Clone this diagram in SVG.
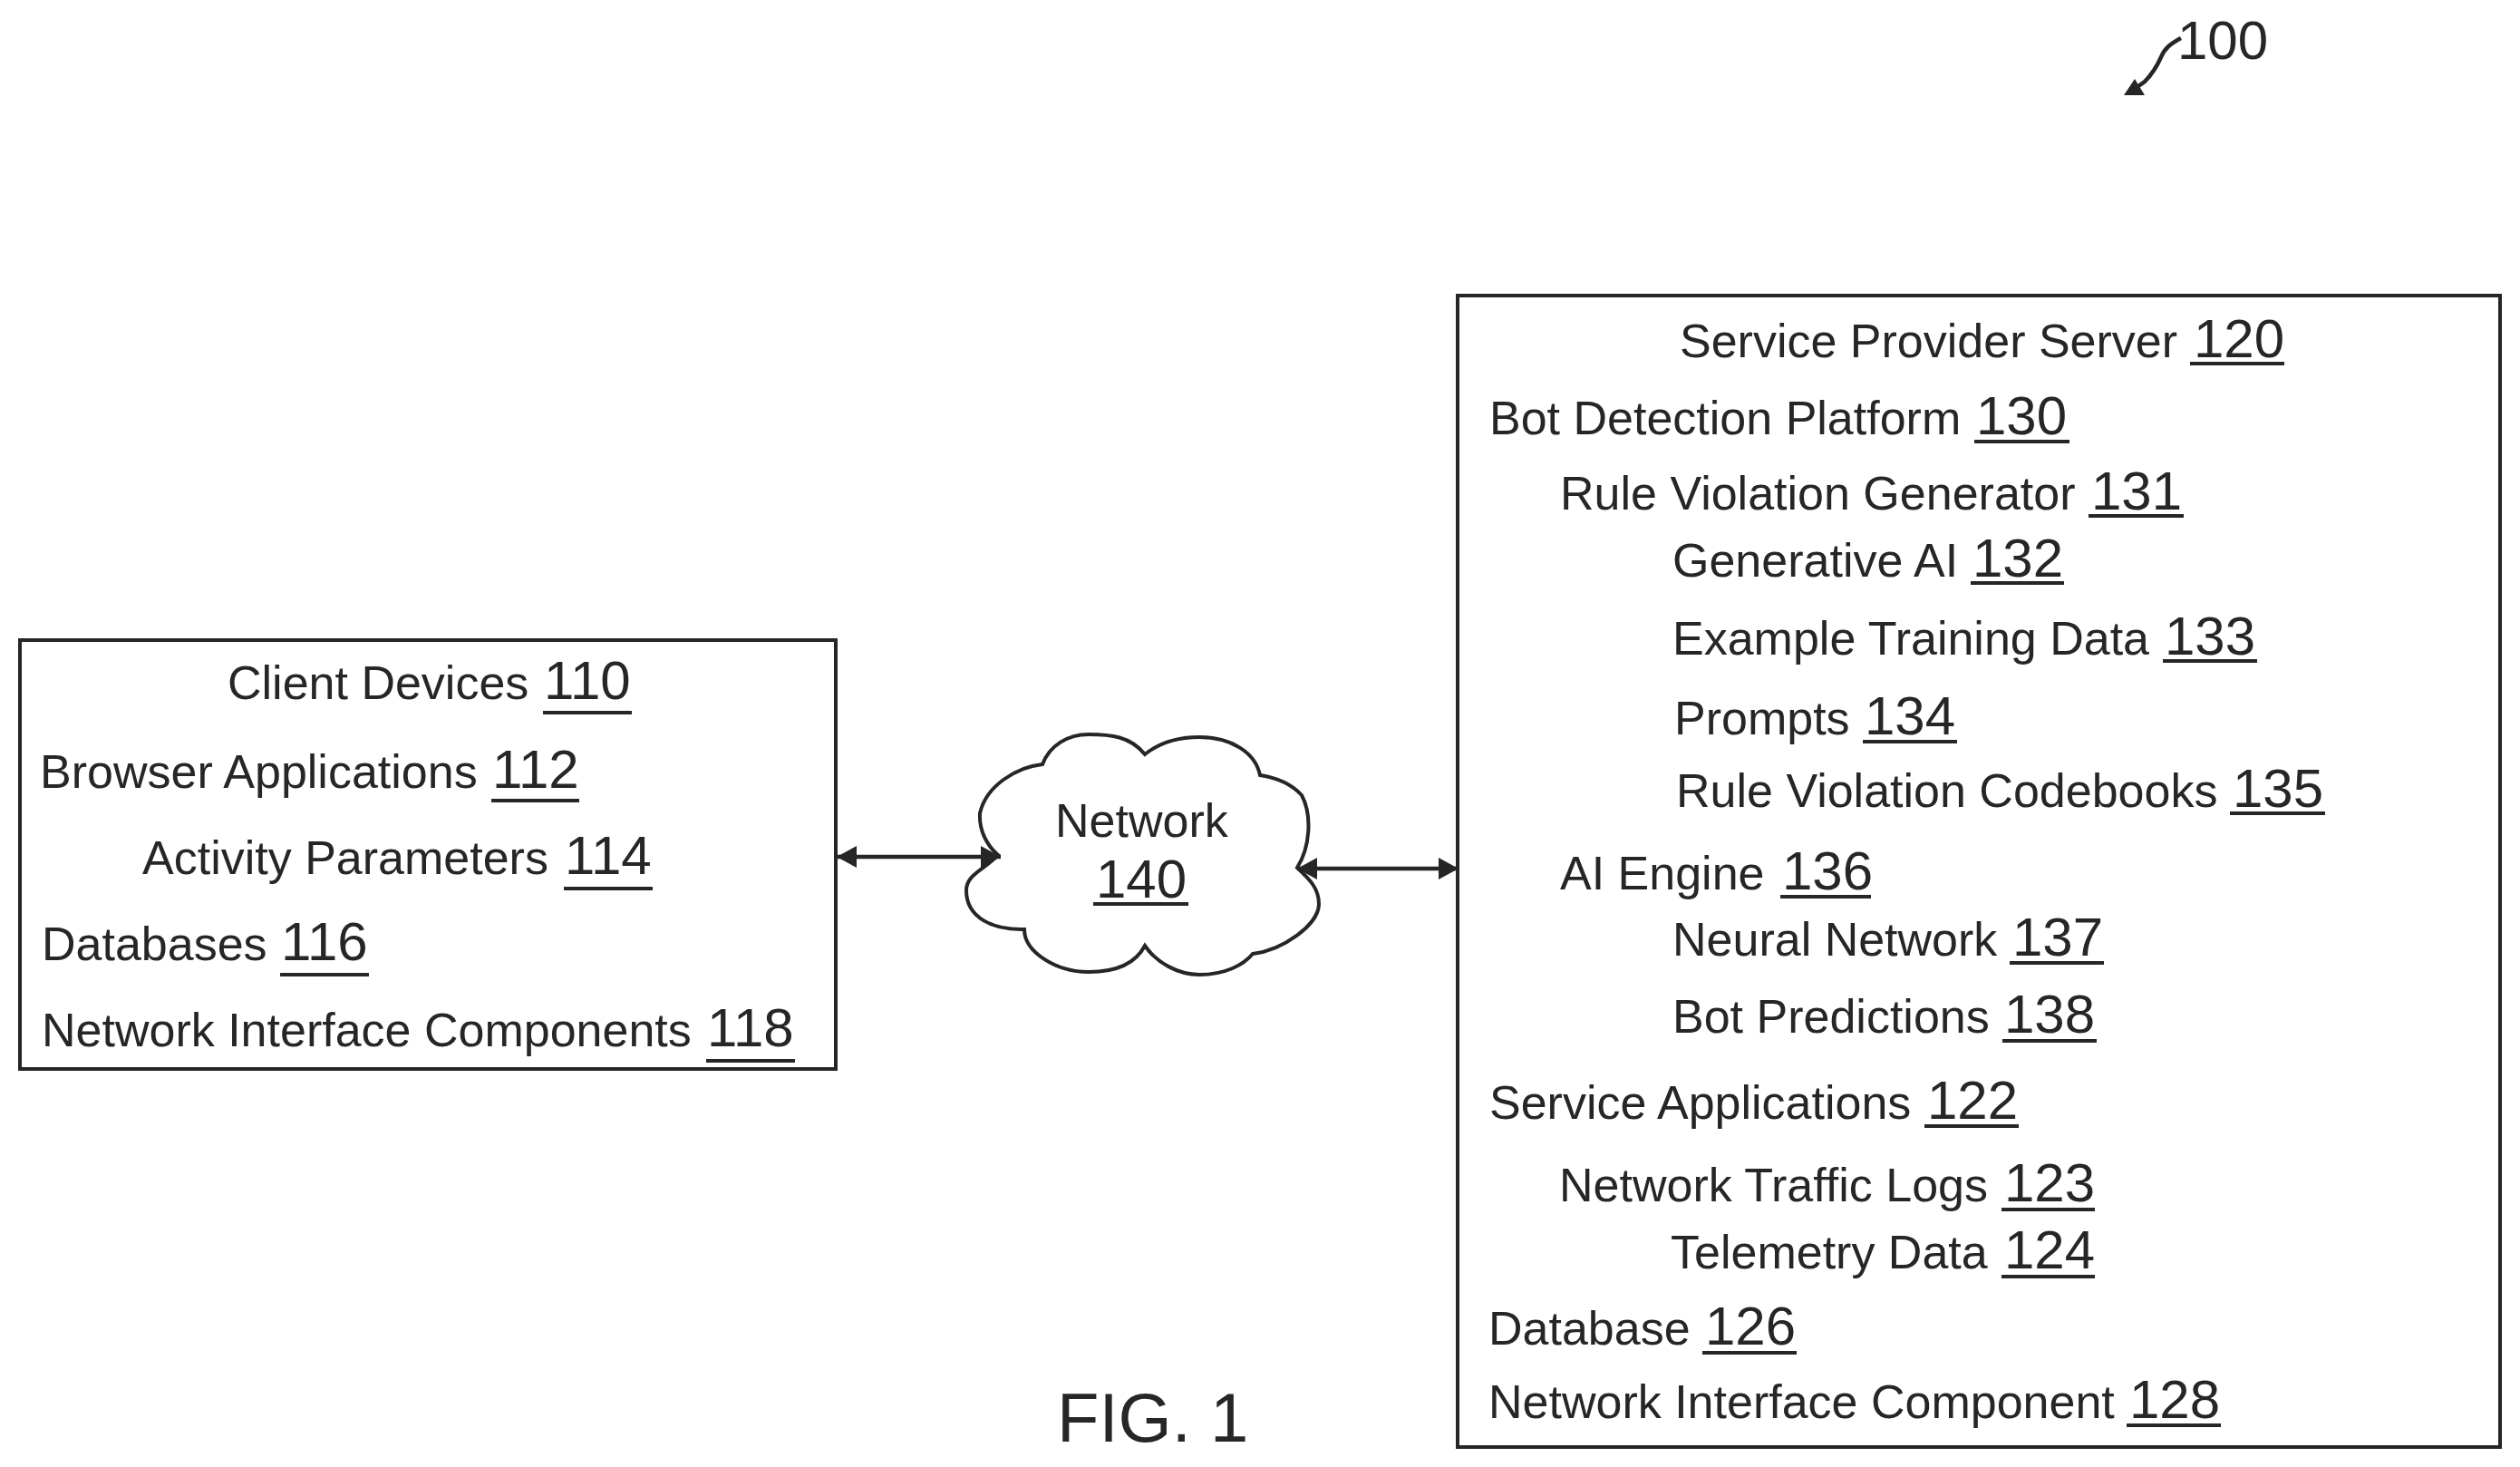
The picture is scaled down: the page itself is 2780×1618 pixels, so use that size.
<svg xmlns="http://www.w3.org/2000/svg" width="2780" height="1618" viewBox="0 0 2780 1618">
<style>
text{font-family:"Liberation Sans",Arial,sans-serif;fill:#262626}
.t{font-size:52px}
.n{font-size:60px}
.u{stroke:#262626;stroke-width:4;fill:none}
.box{fill:#fff;stroke:#262626;stroke-width:4}
.c{stroke:#262626;stroke-width:4.5;fill:none}
</style>
<defs>
<marker id="ah" viewBox="0 0 22 24" refX="22" refY="12" markerWidth="22" markerHeight="24" markerUnits="userSpaceOnUse" orient="auto-start-reverse"><path d="M0 0L22 12L0 24Z" fill="#262626"/></marker>
</defs>
<rect width="2780" height="1618" fill="#fff"/>
<g id="ref-100">
<text x="2402" y="65" font-size="60">100</text>
<path class="c" d="M2406 42C2395 48 2388 53 2384 63C2380 72 2376 80 2366 90L2352 100"/>
<path d="M2343 105L2355 87L2366 105Z" fill="#262626"/>
</g>
<g id="client-devices">
<rect class="box" x="22" y="706" width="900" height="473"/>
<text class="t" x="251" y="771">Client Devices</text><text class="n" x="600" y="771">110</text><line class="u" x1="599" y1="786" x2="697" y2="786"/>
<text class="t" x="44" y="869">Browser Applications</text><text class="n" x="543" y="869">112</text><line class="u" x1="542" y1="883" x2="639" y2="883"/>
<text class="t" x="157" y="964">Activity Parameters</text><text class="n" x="623" y="964">114</text><line class="u" x1="622" y1="980" x2="720" y2="980"/>
<text class="t" x="46" y="1059">Databases</text><text class="n" x="310" y="1059">116</text><line class="u" x1="309" y1="1075" x2="407" y2="1075"/>
<text class="t" x="46" y="1154">Network Interface Components</text><text class="n" x="780" y="1154">118</text><line class="u" x1="779" y1="1170" x2="877" y2="1170"/>
</g>
<g id="network">
<path d="M1263 832C1247 812 1225 810 1201 810C1178 810 1158 822 1150 843C1122 846 1088 866 1081 897C1080 915 1088 932 1101 943C1088 958 1066 964 1066 982C1066 1012 1095 1026 1130 1025C1130 1050 1165 1072 1201 1072C1230 1072 1252 1064 1263 1043C1276 1062 1300 1075 1323 1075C1352 1075 1372 1064 1382 1052C1415 1048 1455 1020 1455 997C1455 980 1445 970 1431 957C1445 935 1448 900 1436 877C1425 865 1410 858 1390 855C1385 830 1358 813 1323 813C1298 813 1278 820 1263 832Z" fill="#fff" stroke="#262626" stroke-width="4"/>
<text class="t" x="1164" y="923">Network</text><text class="n" x="1209" y="990">140</text><line class="u" x1="1206" y1="997" x2="1311" y2="997"/>
</g>
<g id="connectors">
<line class="c" x1="923" y1="945" x2="1104" y2="945" marker-start="url(#ah)" marker-end="url(#ah)"/>
<line class="c" x1="1431" y1="958" x2="1609" y2="958" marker-start="url(#ah)" marker-end="url(#ah)"/>
</g>
<g id="service-provider-server">
<rect class="box" x="1608" y="326" width="1150" height="1270"/>
<text class="t" x="1853" y="394">Service Provider Server</text><text class="n" x="2420" y="394">120</text><line class="u" x1="2416" y1="401" x2="2520" y2="401"/>
<text class="t" x="1643" y="479">Bot Detection Platform</text><text class="n" x="2180" y="479">130</text><line class="u" x1="2178" y1="487" x2="2283" y2="487"/>
<text class="t" x="1721" y="562">Rule Violation Generator</text><text class="n" x="2307" y="562">131</text><line class="u" x1="2304" y1="569" x2="2409" y2="569"/>
<text class="t" x="1845" y="636">Generative AI</text><text class="n" x="2176" y="636">132</text><line class="u" x1="2174" y1="643" x2="2277" y2="643"/>
<text class="t" x="1845" y="722">Example Training Data</text><text class="n" x="2388" y="722">133</text><line class="u" x1="2386" y1="729" x2="2490" y2="729"/>
<text class="t" x="1847" y="810">Prompts</text><text class="n" x="2057" y="810">134</text><line class="u" x1="2055" y1="818" x2="2159" y2="818"/>
<text class="t" x="1849" y="890">Rule Violation Codebooks</text><text class="n" x="2463" y="890">135</text><line class="u" x1="2460" y1="897" x2="2565" y2="897"/>
<text class="t" x="1721" y="981">AI Engine</text><text class="n" x="1966" y="981">136</text><line class="u" x1="1964" y1="989" x2="2064" y2="989"/>
<text class="t" x="1845" y="1054">Neural Network</text><text class="n" x="2220" y="1054">137</text><line class="u" x1="2217" y1="1062" x2="2321" y2="1062"/>
<text class="t" x="1845" y="1139">Bot Predictions</text><text class="n" x="2211" y="1139">138</text><line class="u" x1="2209" y1="1148" x2="2313" y2="1148"/>
<text class="t" x="1643" y="1234">Service Applications</text><text class="n" x="2126" y="1234">122</text><line class="u" x1="2123" y1="1242" x2="2227" y2="1242"/>
<text class="t" x="1720" y="1325">Network Traffic Logs</text><text class="n" x="2211" y="1325">123</text><line class="u" x1="2208" y1="1334" x2="2311" y2="1334"/>
<text class="t" x="1843" y="1399">Telemetry Data</text><text class="n" x="2211" y="1399">124</text><line class="u" x1="2208" y1="1408" x2="2311" y2="1408"/>
<text class="t" x="1642" y="1483">Database</text><text class="n" x="1881" y="1483">126</text><line class="u" x1="1878" y1="1492" x2="1982" y2="1492"/>
<text class="t" x="1642" y="1564">Network Interface Component</text><text class="n" x="2349" y="1564">128</text><line class="u" x1="2346" y1="1572" x2="2450" y2="1572"/>
</g>
<g id="figure-label"><text x="1166" y="1590" font-size="76">FIG. 1</text></g>
</svg>
